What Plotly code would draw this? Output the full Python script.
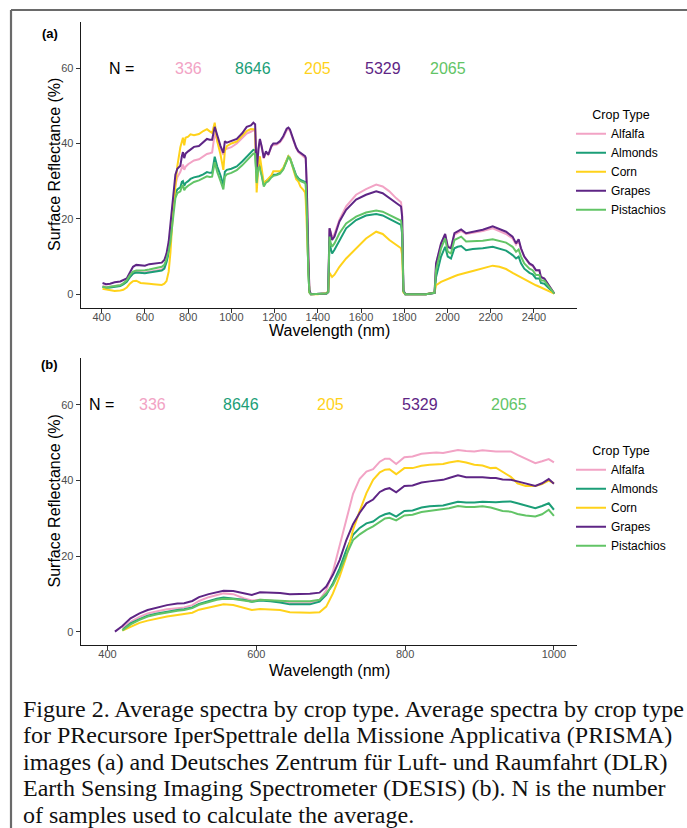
import plotly.graph_objects as go

W, H = 687, 828

crops = ["Alfalfa", "Almonds", "Corn", "Grapes", "Pistachios"]
colors = {"Alfalfa": "#F2A3C5", "Almonds": "#1B9E77", "Corn": "#FFD21A",
          "Grapes": "#5E2585", "Pistachios": "#62C466"}
n_samples = [336, 8646, 205, 5329, 2065]

# ---------------- Panel (a): PRISMA ----------------
wl_a = [404, 420, 439, 460, 486, 500, 516, 530, 545, 560,
        580, 600, 620, 640, 660, 678, 690, 700, 710, 718,
        730, 741, 750, 764, 771, 776, 782, 788, 800, 811,
        827, 850, 870, 887, 900, 911, 923, 935, 950, 963,
        970, 979, 1000, 1025, 1050, 1071, 1090, 1102, 1110,
        1117, 1125, 1132, 1140, 1150, 1160, 1171, 1185, 1194, 1210,
        1225, 1240, 1256, 1264, 1271, 1287, 1300, 1310, 1320, 1333,
        1341, 1344, 1349, 1356, 1361,
        1368, 1400, 1440, 1448,
        1454, 1460, 1466, 1477, 1500, 1531, 1577, 1623, 1670, 1700,
        1731, 1762, 1785, 1790, 1796,
        1805, 1900, 1940,
        1947, 1970, 1989, 2001, 2009, 2016, 2032, 2047, 2063, 2086,
        2117, 2163, 2209, 2240, 2271, 2301, 2317, 2329, 2340, 2355,
        2379, 2394, 2409, 2425, 2432, 2448, 2463, 2479, 2494]

alfalfa_a = [2.2, 2.0, 2.0, 2.2, 2.5, 2.8, 3.5, 4.6, 5.5, 6.0,
             5.8, 5.8, 6.0, 6.3, 6.4, 6.6, 7.2, 9.0, 12.0, 16.0,
             24.0, 29.0, 31.0, 32.5, 34.0, 34.4, 33.0, 33.8, 34.5, 35.0,
             35.5, 35.8, 36.6, 37.2, 37.4, 37.6, 42.6, 40.5, 38.5, 37.0,
             38.5, 38.6, 39.0, 40.0, 41.5, 42.6, 43.1, 43.5, 43.3,
             32.0, 38.0, 41.0, 39.0, 36.0, 37.6, 37.0, 39.0, 39.6, 39.7,
             40.3, 41.5, 43.5, 43.8, 43.4, 40.8, 38.7, 37.7, 37.2, 36.6,
             36.4, 36.0, 28.5, 10.0, 1.0,
             0.0, 0.0, 0.2, 0.6,
             17.5, 16.5, 14.8, 16.0, 19.8, 23.3, 26.4, 27.9, 29.1, 28.6,
             27.3, 25.5, 24.4, 21.5, 1.0,
             0.0, 0.0, 0.4,
             8.0, 13.3, 15.8, 12.8, 12.5, 12.4, 15.8, 16.3, 16.8, 16.0,
             16.3, 16.8, 17.5, 16.8, 16.0, 14.8, 13.2, 14.2, 12.0, 10.0,
             8.0, 7.5, 6.3, 6.3, 4.6, 4.1, 2.8, 1.5, 0.2]

almonds_a = [2.0, 1.7, 1.8, 2.0, 2.2, 2.6, 3.3, 4.5, 5.5, 5.8,
             5.6, 5.6, 5.8, 6.0, 6.1, 6.3, 6.8, 8.5, 11.0, 14.4,
             22.0, 26.8, 27.8, 28.4, 29.8, 30.0, 28.8, 29.5, 30.0, 30.6,
             31.0, 31.3, 31.8, 32.4, 32.2, 32.2, 36.5, 33.8, 31.5, 29.0,
             32.5, 33.0, 33.3, 33.9, 35.2, 36.4, 37.4, 38.3, 38.2,
             30.0, 34.6, 34.0, 32.0, 29.0, 30.0, 30.4, 31.4, 31.7, 31.8,
             32.2, 33.3, 35.5, 36.6, 36.2, 33.4, 31.5, 30.8, 30.3, 30.0,
             29.8, 29.5, 23.0, 6.0, 0.5,
             0.0, 0.0, 0.2, 0.6,
             14.0, 12.0, 10.8, 11.8, 14.4, 17.5, 19.7, 20.9, 21.3, 20.9,
             20.0, 19.2, 18.4, 16.0, 0.8,
             0.0, 0.0, 0.4,
             4.6, 10.0, 12.6, 10.0, 9.7, 9.5, 12.2, 12.6, 12.8, 11.7,
             12.0, 12.2, 12.6, 12.2, 11.6, 10.4, 9.5, 10.0, 8.2, 6.8,
             5.7, 5.3, 4.2, 4.2, 3.0, 2.8, 2.0, 1.1, 0.2]

corn_a = [1.5, 1.3, 1.0, 0.9, 1.0, 1.2, 1.8, 2.8, 3.5, 3.6,
          3.0, 2.8, 2.8, 2.7, 2.6, 2.5, 2.8, 3.5, 6.0, 11.0,
          22.0, 30.0, 34.0, 39.0, 41.0, 41.5, 39.5, 41.5, 41.8, 42.4,
          42.2, 42.5, 43.3, 43.8, 43.2, 42.8, 45.5, 40.5, 37.0, 33.0,
          38.0, 39.3, 40.0, 40.5, 42.0, 43.3, 43.8, 43.8, 43.7,
          27.0, 34.0, 36.6, 33.0, 29.5, 30.0, 30.8, 31.5, 32.6, 32.5,
          32.6, 33.5, 35.5, 36.6, 36.2, 33.0, 30.5, 29.9, 28.5, 27.7,
          27.0, 25.0, 18.0, 5.0, 0.5,
          0.0, 0.0, 0.3, 0.8,
          5.7, 5.0, 4.6, 5.2, 7.3, 9.5, 12.2, 14.8, 16.6, 16.0,
          14.4, 13.1, 12.2, 10.5, 0.5,
          0.0, 0.0, 0.5,
          2.4, 3.3, 3.8, 4.0, 4.2, 4.4, 4.8, 5.1, 5.4, 5.7,
          6.2, 6.8, 7.6, 7.3, 6.7, 5.7, 5.2, 4.8, 4.5, 4.0,
          3.2, 2.8, 2.4, 2.0, 1.8, 1.3, 1.0, 0.6, 0.2]

grapes_a = [3.0, 2.7, 2.8, 3.2, 3.4, 3.7, 4.2, 5.7, 7.3, 7.8,
            7.6, 7.6, 8.0, 8.2, 8.2, 8.4, 9.1, 10.8, 14.0, 18.8,
            26.8, 31.7, 33.3, 34.1, 36.6, 37.7, 36.1, 37.3, 37.9, 38.4,
            39.1, 39.3, 40.4, 41.2, 41.0, 41.0, 44.4, 41.9, 39.3, 37.5,
            40.6, 40.2, 40.6, 41.2, 42.7, 44.4, 44.8, 45.5, 45.1,
            32.2, 38.4, 41.2, 39.3, 36.2, 37.9, 37.0, 39.3, 40.0, 40.0,
            40.6, 41.9, 43.9, 44.2, 43.7, 41.0, 38.9, 37.9, 37.5, 36.8,
            36.6, 36.2, 28.6, 10.0, 1.1,
            0.0, 0.0, 0.2, 0.6,
            17.5, 16.2, 14.4, 15.3, 19.3, 22.4, 25.1, 26.4, 27.3, 26.8,
            25.5, 24.2, 23.3, 20.6, 1.0,
            0.0, 0.0, 0.4,
            8.2, 13.5, 16.0, 12.6, 12.3, 12.2, 16.2, 16.6, 17.2, 16.2,
            16.6, 17.1, 18.0, 17.2, 16.6, 15.3, 13.5, 14.6, 12.2, 10.0,
            8.2, 7.7, 6.4, 6.4, 4.6, 4.2, 2.8, 1.5, 0.2]

pistachios_a = [2.0, 1.8, 2.0, 2.2, 2.4, 2.9, 3.7, 5.0, 6.0, 6.3,
                6.3, 6.4, 6.6, 6.8, 7.0, 7.3, 7.8, 9.3, 11.5, 14.0,
                20.0, 25.5, 26.8, 27.3, 28.6, 28.8, 27.6, 28.2, 28.8, 29.3,
                29.8, 30.2, 30.7, 31.3, 31.1, 31.2, 35.0, 32.4, 30.0, 27.8,
                31.2, 31.8, 32.2, 32.9, 34.2, 35.4, 36.6, 37.3, 37.2,
                29.5, 33.8, 33.2, 31.5, 28.6, 29.6, 30.0, 31.0, 31.4, 31.6,
                32.0, 33.1, 35.3, 36.4, 36.0, 33.2, 31.2, 30.5, 30.0, 29.7,
                29.5, 29.2, 22.5, 6.0, 0.5,
                0.0, 0.0, 0.2, 0.6,
                15.3, 13.5, 12.6, 13.5, 16.2, 18.8, 20.6, 21.7, 22.2, 21.9,
                21.1, 20.2, 19.5, 17.0, 0.8,
                0.0, 0.0, 0.4,
                6.4, 12.2, 14.8, 11.3, 11.0, 10.8, 14.4, 14.8, 15.3, 14.0,
                14.1, 14.2, 14.6, 14.2, 13.7, 12.6, 11.3, 11.9, 10.0, 8.2,
                6.8, 6.4, 5.1, 5.1, 3.7, 3.6, 2.4, 1.2, 0.2]

# ---------------- Panel (b): DESIS ----------------
wl_b = [410, 420, 431, 443, 454, 467, 480, 494, 503, 514,
        523, 536, 547, 556, 569, 583, 594, 605, 619, 632,
        645, 659, 672, 685, 694, 703, 712, 721, 730, 739,
        748, 757, 766, 773, 779, 788, 799, 810, 822, 833,
        842, 851, 859, 871, 882, 893, 904, 915, 922, 931,
        942, 951, 962, 975, 984, 993, 1000]

alfalfa_b = [None, 1.0, 2.7, 4.0, 4.9, 5.5, 6.0, 6.3, 6.5, 7.1,
             8.2, 9.2, 9.8, 10.2, 10.0, 8.9, 8.3, 8.5, 8.3, 8.0,
             7.6, 7.6, 7.6, 8.5, 11.0, 16.0, 23.0, 30.0, 36.5, 40.5,
             42.4, 43.0, 45.0, 45.8, 45.8, 44.4, 46.2, 46.4, 47.1, 47.3,
             47.4, 47.3, 47.7, 48.1, 47.8, 47.7, 48.0, 47.7, 47.7, 47.7,
             47.7, 46.8, 45.7, 44.6, 45.1, 45.7, 44.8]

almonds_b = [None, 0.5, 2.3, 3.4, 4.3, 4.9, 5.4, 5.8, 6.0, 6.5,
             7.4, 8.2, 8.8, 9.1, 8.9, 8.5, 8.0, 8.3, 8.1, 7.8,
             7.3, 7.3, 7.3, 8.0, 9.8, 12.9, 16.8, 21.7, 25.7, 27.5,
             28.7, 29.2, 30.5, 31.1, 31.4, 30.5, 32.0, 32.1, 32.9, 33.2,
             33.3, 33.4, 33.8, 34.4, 34.2, 34.2, 34.4, 34.3, 34.3, 34.4,
             34.5, 34.0, 33.4, 32.7, 33.3, 34.0, 32.3]

corn_b = [None, 0.4, 1.4, 2.4, 3.0, 3.6, 4.1, 4.5, 4.8, 5.1,
          5.9, 6.5, 7.0, 7.3, 7.1, 6.4, 5.8, 6.1, 6.0, 5.8,
          5.2, 5.1, 5.1, 5.2, 6.7, 10.2, 14.6, 19.9, 27.0, 32.0,
          36.7, 40.2, 42.2, 42.9, 43.0, 41.7, 43.3, 43.3, 43.9, 44.2,
          44.3, 44.4, 44.8, 45.2, 44.8, 44.2, 44.0, 43.3, 43.4, 42.3,
          41.0, 39.3, 38.6, 38.6, 39.1, 40.0, 39.3]

grapes_b = [0.1, 1.6, 3.6, 4.9, 5.8, 6.5, 7.1, 7.5, 7.6, 8.2,
            9.2, 10.0, 10.5, 10.9, 10.8, 10.2, 9.8, 10.5, 10.4, 10.3,
            10.0, 10.0, 10.1, 10.4, 12.0, 15.1, 19.0, 24.3, 28.5, 31.5,
            34.0, 35.0, 37.0, 37.7, 38.0, 36.9, 38.6, 38.7, 39.5, 39.8,
            40.0, 40.2, 40.7, 41.4, 40.9, 40.9, 40.9, 40.7, 40.7, 40.3,
            40.2, 39.8, 39.2, 38.6, 39.3, 40.4, 39.2]

pistachios_b = [None, 0.4, 2.0, 3.2, 4.1, 4.7, 5.2, 5.6, 5.8, 6.3,
                7.2, 8.0, 8.5, 8.8, 8.7, 8.3, 8.0, 8.5, 8.3, 8.2,
                8.1, 8.1, 8.1, 8.5, 10.2, 12.4, 16.0, 20.4, 24.3, 25.8,
                27.0, 27.9, 29.2, 30.0, 30.2, 29.5, 30.8, 31.0, 31.7, 32.0,
                32.2, 32.5, 32.7, 33.3, 33.0, 33.0, 33.2, 32.9, 32.5, 32.0,
                31.8, 31.2, 30.8, 30.5, 31.1, 32.3, 30.7]

xticks_a = [400, 600, 800, 1000, 1200, 1400, 1600, 1800, 2000, 2200, 2400]
xticks_b = [400, 600, 800, 1000]
yticks = [0, 20, 40, 60]

caption = [
    "Figure 2. Average spectra by crop type. Average spectra by crop type",
    "for PRecursore IperSpettrale della Missione Applicativa (PRISMA)",
    "images (a) and Deutsches Zentrum für Luft- und Raumfahrt (DLR)",
    "Earth Sensing Imaging Spectrometer (DESIS) (b). N is the number",
    "of samples used to calculate the average.",
]

series_a = dict(zip(crops, [alfalfa_a, almonds_a, corn_a, grapes_a, pistachios_a]))
series_b = dict(zip(crops, [alfalfa_b, almonds_b, corn_b, grapes_b, pistachios_b]))

for c in crops:
    assert len(series_a[c]) == len(wl_a), c
    assert len(series_b[c]) == len(wl_b), c

FONT = "Liberation Sans"

fig = go.Figure()
for c in crops:
    fig.add_trace(go.Scatter(x=wl_a, y=series_a[c], mode="lines", name=c,
                             line=dict(color=colors[c], width=2),
                             xaxis="x", yaxis="y", legend="legend"))
for c in crops:
    fig.add_trace(go.Scatter(x=wl_b, y=series_b[c], mode="lines", name=c,
                             line=dict(color=colors[c], width=2),
                             xaxis="x2", yaxis="y2", legend="legend2"))


def px_x(p):
    return p / W


def px_y(p):
    return 1 - p / H


x_dom = [px_x(80.7), px_x(577)]
common_axis = dict(showline=True, linecolor="#1a1a1a", linewidth=1.2,
                   ticks="outside", ticklen=4, tickcolor="#333333", tickwidth=1,
                   tickfont=dict(family=FONT, size=11, color="#4D4D4D"),
                   showgrid=False, zeroline=False)

annotations = []
# N labels
n_x_a = [800, 1100, 1400, 1700, 2000]
n_x_b = [460, 580, 700, 820, 940]
for ref, nx, x0 in (("", n_x_a, 490), ("2", n_x_b, 392)):
    annotations.append(dict(x=x0, y=60, xref="x" + ref, yref="y" + ref, text="N =",
                            xanchor="center", yanchor="middle",
                            showarrow=False, font=dict(family=FONT, size=16, color="black")))
    for c, n, xx in zip(crops, n_samples, nx):
        annotations.append(dict(x=xx, y=60, xref="x" + ref, yref="y" + ref, text=str(n),
                                xanchor="center", yanchor="middle",
                                showarrow=False, font=dict(family=FONT, size=16, color=colors[c])))

# panel tags, axis titles
for tag, ty, yc, xt in (("(a)", 34, 165, 330), ("(b)", 365, 501.5, 670)):
    annotations.append(dict(x=px_x(50), y=px_y(ty), xref="paper", yref="paper",
                            xanchor="center", yanchor="middle", text="<b>" + tag + "</b>",
                            showarrow=False, font=dict(family=FONT, size=13, color="black")))
    annotations.append(dict(x=px_x(54), y=px_y(yc), xref="paper", yref="paper",
                            xanchor="center", yanchor="middle",
                            text="Surface Reflectance (%)", textangle=-90, showarrow=False,
                            font=dict(family=FONT, size=16, color="black")))
    annotations.append(dict(x=px_x(329), y=px_y(xt), xref="paper", yref="paper",
                            xanchor="center", yanchor="middle",
                            text="Wavelength (nm)", showarrow=False,
                            font=dict(family=FONT, size=16, color="black")))

# caption
for i, line in enumerate(caption):
    annotations.append(dict(x=px_x(21), y=px_y(708.5 + 26.6 * i), xref="paper", yref="paper",
                            xanchor="left", yanchor="middle", text=line, showarrow=False,
                            font=dict(family="Liberation Serif", size=24, color="#111111")))

legend_common = dict(title=dict(text="Crop Type", side="top center",
                                font=dict(family=FONT, size=12.5, color="black")),
                     font=dict(family=FONT, size=12, color="black"),
                     bgcolor="rgba(0,0,0,0)", xanchor="left", yanchor="middle",
                     itemwidth=30, tracegroupgap=0)

fig.update_layout(
    width=W, height=H, autosize=False,
    margin=dict(l=0, r=0, t=0, b=0, pad=0),
    paper_bgcolor="white", plot_bgcolor="white",
    font=dict(family=FONT),
    showlegend=True,
    xaxis=dict(domain=x_dom, range=[303, 2599], tickvals=xticks_a, anchor="y",
               ticklabelstandoff=-5, **common_axis),
    yaxis=dict(domain=[px_y(307.7), px_y(22)], range=[-3.55, 72.2], tickvals=yticks,
               anchor="x", **common_axis),
    xaxis2=dict(domain=x_dom, range=[364, 1031], tickvals=xticks_b, anchor="y2",
                ticklabelstandoff=-5, **common_axis),
    yaxis2=dict(domain=[px_y(645), px_y(358)], range=[-3.44, 72.4], tickvals=yticks,
                anchor="x2", **common_axis),
    legend=dict(x=px_x(571), y=px_y(164), **legend_common),
    legend2=dict(x=px_x(571), y=px_y(500), **legend_common),
    annotations=annotations,
    shapes=[
        dict(type="line", xref="paper", yref="paper", x0=px_x(11), x1=px_x(700),
             y0=px_y(10), y1=px_y(10), line=dict(color="#6a6a6a", width=2.2)),
        dict(type="line", xref="paper", yref="paper", x0=px_x(11), x1=px_x(11),
             y0=px_y(10), y1=px_y(840), line=dict(color="#6a6a6a", width=2.2)),
    ],
)

fig.write_html("out.html")
